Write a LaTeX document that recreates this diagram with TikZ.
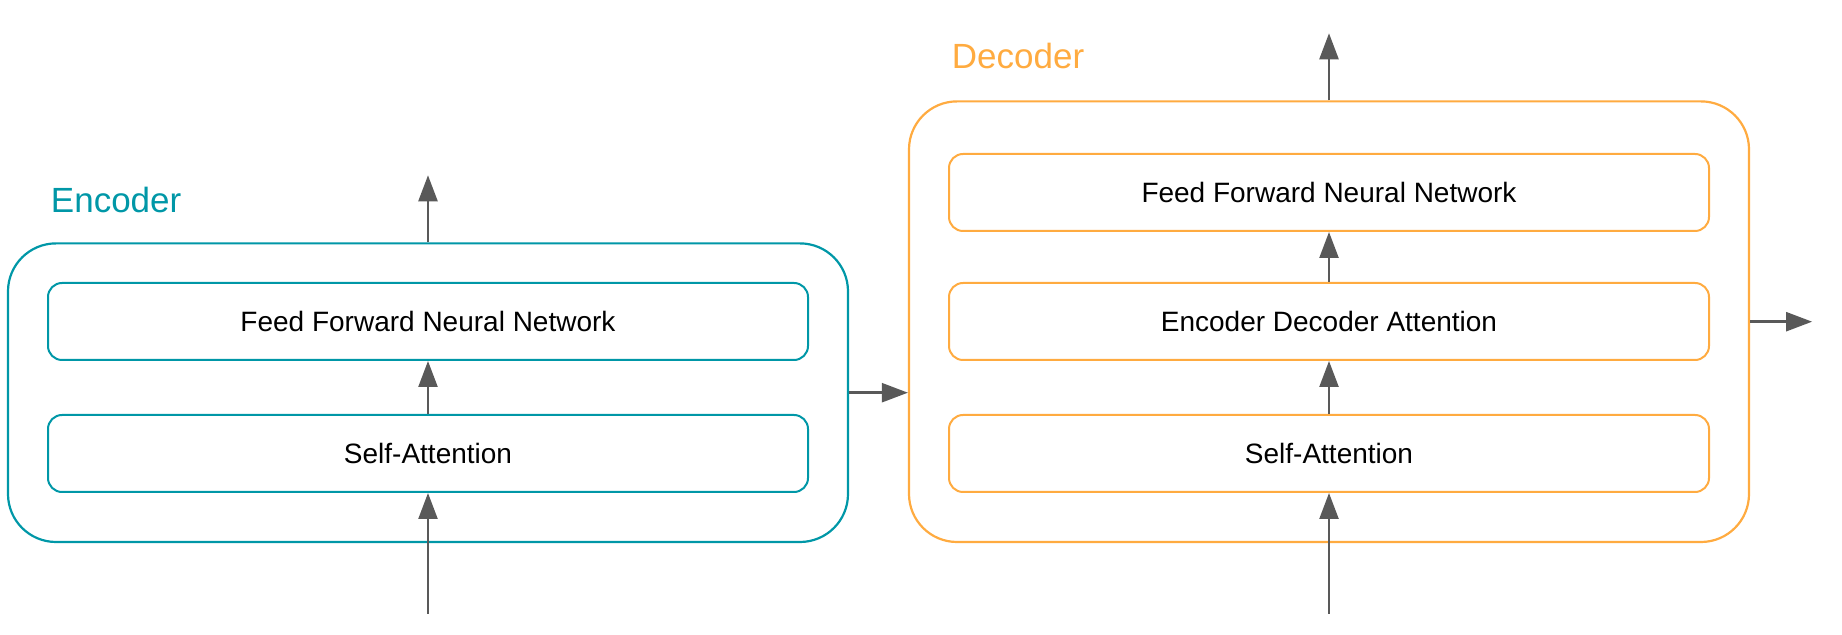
\documentclass[tikz,border=0pt]{standalone}
\usepackage{fontspec}
\setmainfont{Liberation Sans}
\usepackage{tikz}
\usetikzlibrary{positioning,arrows.meta,fit,calc}
\definecolor{enccolor}{RGB}{0,151,167}
\definecolor{deccolor}{RGB}{255,171,64}
\definecolor{arrowgray}{RGB}{89,89,89}

\begin{document}
\begin{tikzpicture}[
  node distance=26.5pt,
  layer/.style={rectangle, rounded corners=7pt, draw, line width=1pt, minimum width=380pt, minimum height=38.5pt, font=\fontsize{14pt}{17pt}\selectfont},
  enclayer/.style={layer, draw=enccolor},
  declayer/.style={layer, draw=deccolor},
  stack/.style={rectangle, rounded corners=24pt, line width=1.1pt, inner xsep=19.5pt},
  title/.style={font=\fontsize{17.5pt}{21pt}\selectfont},
  arrow/.style={-{Triangle[length=13pt, width=9.5pt]}, line width=1.2pt, draw=arrowgray}
]
  \useasboundingbox (0,0) rectangle (921pt,-317.5pt);

  % Encoder
  \node[enclayer] (encSA) at (214pt,-226.75pt) {Self-Attention};
  \node[enclayer, above=of encSA] (encFFN) {Feed Forward Neural Network};
  \node[stack, draw=enccolor, fit=(encFFN)(encSA), inner ysep=21.9pt, yshift=-2.6pt] (encoder) {};
  \node[title, text=enccolor, above right=14.9pt and 18.5pt of encoder.north west, anchor=base west] (encLabel) {Encoder};

  % Decoder
  \node[declayer, right=69.5pt of encSA] (decSA) {Self-Attention};
  \node[declayer, above=of decSA] (decEDA) {Encoder Decoder Attention};
  \node[declayer, above=25pt of decEDA] (decFFN) {Feed Forward Neural Network};
  \node[stack, draw=deccolor, fit=(decFFN)(decSA), inner ysep=25.15pt, yshift=0.65pt] (decoder) {};
  \node[title, text=deccolor, above right=15.75pt and 18.5pt of decoder.north west, anchor=base west] (decLabel) {Decoder};

  % Free ends
  \coordinate[below=60.5pt of encSA] (encIn);
  \coordinate[above=33.5pt of encoder] (encOut);
  \coordinate[below=60.5pt of decSA] (decIn);
  \coordinate[above=33.5pt of decoder] (decOut);
  \coordinate[right=31pt of decoder] (decNext);

  % Edges
  \draw[arrow] (encIn) -- (encSA);
  \draw[arrow] (encSA) -- (encFFN);
  \draw[arrow] (encoder) -- (encOut);
  \draw[arrow] (encoder.east) -- (encoder.east -| decoder.west);
  \draw[arrow] (decIn) -- (decSA);
  \draw[arrow] (decSA) -- (decEDA);
  \draw[arrow] (decEDA) -- (decFFN);
  \draw[arrow] (decoder) -- (decOut);
  \draw[arrow] (decoder) -- (decNext);

\end{tikzpicture}
\end{document}
